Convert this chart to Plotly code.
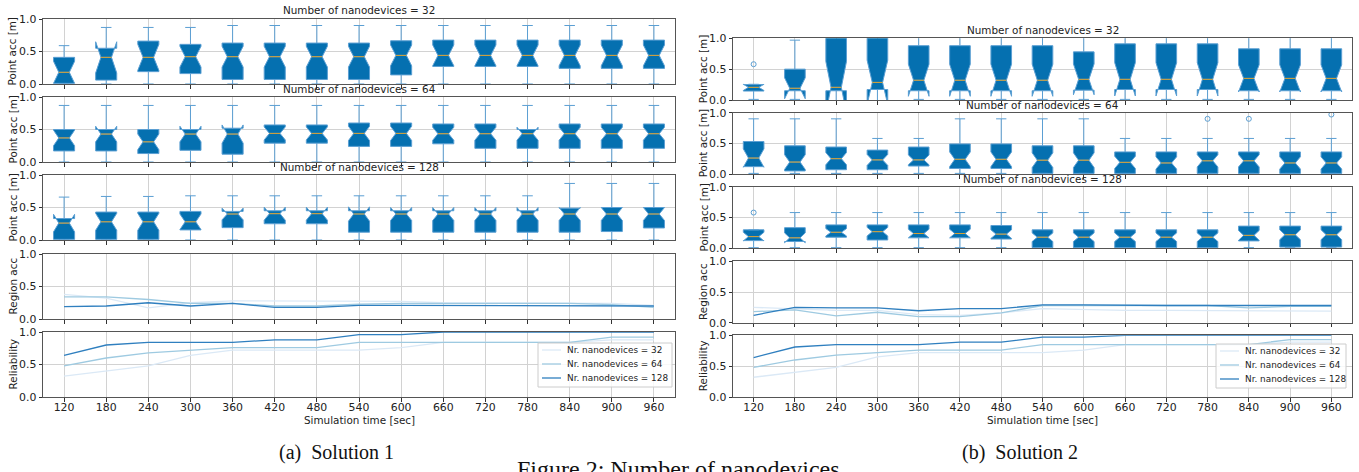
import plotly.graph_objects as go

W, H = 1359, 472

# ---------------- data ----------------
TIMES = [120, 180, 240, 300, 360, 420, 480, 540, 600, 660, 720, 780, 840, 900, 960]
TICK_LABELS = [str(t) for t in TIMES]
SERIES_NAMES = ["Nr. nanodevices = 32", "Nr. nanodevices = 64", "Nr. nanodevices = 128"]
BOX_TITLES = ["Number of nanodevices = 32", "Number of nanodevices = 64", "Number of nanodevices = 128"]

# Solution 1 - point accuracy box statistics
S1_N32_LF = [0.0] * 15
S1_N32_Q1 = [0.01, 0.06, 0.19, 0.16, 0.07, 0.07, 0.07, 0.07, 0.14, 0.27, 0.27, 0.27, 0.24, 0.24, 0.24]
S1_N32_MED = [0.18, 0.41, 0.41, 0.42, 0.42, 0.42, 0.42, 0.42, 0.44, 0.44, 0.44, 0.44, 0.44, 0.44, 0.44]
S1_N32_Q3 = [0.41, 0.55, 0.66, 0.61, 0.63, 0.63, 0.63, 0.63, 0.665, 0.675, 0.675, 0.675, 0.675, 0.675, 0.675]
S1_N32_UF = [0.59, 0.87, 0.87, 0.87, 0.90, 0.90, 0.90, 0.90, 0.90, 0.90, 0.90, 0.90, 0.90, 0.90, 0.90]
S1_N32_NOTCH = [0.17, 0.24, 0.20, 0.16, 0.16, 0.16, 0.16, 0.16, 0.16, 0.16, 0.16, 0.16, 0.16, 0.16, 0.16]

S1_N64_LF = [0.0] * 15
S1_N64_Q1 = [0.17, 0.17, 0.13, 0.18, 0.12, 0.29, 0.29, 0.24, 0.24, 0.28, 0.21, 0.21, 0.21, 0.21, 0.21]
S1_N64_MED = [0.37, 0.43, 0.31, 0.43, 0.43, 0.44, 0.44, 0.44, 0.44, 0.435, 0.435, 0.435, 0.435, 0.435, 0.435]
S1_N64_Q3 = [0.50, 0.50, 0.50, 0.50, 0.52, 0.57, 0.57, 0.60, 0.60, 0.585, 0.585, 0.50, 0.585, 0.585, 0.585]
S1_N64_UF = [0.87] * 15
S1_N64_NOTCH = [0.12, 0.12, 0.12, 0.12, 0.14, 0.10, 0.10, 0.11, 0.11, 0.10, 0.10, 0.10, 0.10, 0.10, 0.10]

S1_N128_LF = [0.0] * 15
S1_N128_Q1 = [0.01, 0.01, 0.01, 0.155, 0.19, 0.25, 0.25, 0.12, 0.12, 0.12, 0.12, 0.12, 0.12, 0.13, 0.185]
S1_N128_MED = [0.26, 0.28, 0.28, 0.28, 0.40, 0.405, 0.405, 0.40, 0.40, 0.40, 0.40, 0.40, 0.40, 0.40, 0.40]
S1_N128_Q3 = [0.33, 0.43, 0.43, 0.44, 0.44, 0.45, 0.45, 0.45, 0.45, 0.45, 0.45, 0.45, 0.49, 0.50, 0.50]
S1_N128_UF = [0.66, 0.67, 0.67, 0.68, 0.68, 0.68, 0.68, 0.68, 0.68, 0.68, 0.68, 0.68, 0.87, 0.87, 0.87]
S1_N128_NOTCH = [0.135, 0.13, 0.13, 0.12, 0.09, 0.10, 0.10, 0.11, 0.10, 0.10, 0.10, 0.10, 0.10, 0.10, 0.10]

# Solution 2 - point accuracy box statistics
S2_N32_LF = [0.01] * 15
S2_N32_Q1 = [0.145, 0.15, 0.15, 0.17, 0.15, 0.15, 0.15, 0.15, 0.16, 0.17, 0.17, 0.17, 0.15, 0.15, 0.15]
S2_N32_MED = [0.205, 0.19, 0.205, 0.285, 0.32, 0.32, 0.32, 0.32, 0.335, 0.335, 0.335, 0.335, 0.35, 0.35, 0.35]
S2_N32_Q3 = [0.25, 0.50, 1.10, 1.10, 0.88, 0.88, 0.88, 0.88, 0.78, 0.91, 0.91, 0.91, 0.83, 0.83, 0.83]
S2_N32_UF = [0.25, 0.97, 1.30, 1.30, 1.20, 1.20, 1.20, 1.20, 1.20, 1.20, 1.20, 1.20, 1.20, 1.20, 1.20]
S2_N32_NOTCH = [0.05, 0.17, 0.42, 0.36, 0.26, 0.26, 0.26, 0.26, 0.25, 0.27, 0.27, 0.27, 0.22, 0.22, 0.22]
S2_N32_OUT_X = [120]
S2_N32_OUT_Y = [0.58]

S2_N64_LF = [0.01] * 15
S2_N64_Q1 = [0.12, 0.05, 0.07, 0.07, 0.13, 0.09, 0.09, 0.01, 0.01, 0.01, 0.01, 0.01, 0.01, 0.01, 0.01]
S2_N64_MED = [0.26, 0.195, 0.25, 0.23, 0.23, 0.24, 0.24, 0.225, 0.225, 0.19, 0.18, 0.215, 0.215, 0.18, 0.18]
S2_N64_Q3 = [0.53, 0.46, 0.44, 0.39, 0.44, 0.49, 0.49, 0.46, 0.46, 0.36, 0.36, 0.36, 0.36, 0.36, 0.36]
S2_N64_UF = [0.90, 0.90, 0.90, 0.58, 0.58, 0.90, 0.90, 0.90, 0.90, 0.58, 0.58, 0.58, 0.58, 0.58, 0.58]
S2_N64_NOTCH = [0.15, 0.12, 0.10, 0.09, 0.08, 0.12, 0.12, 0.12, 0.12, 0.10, 0.10, 0.10, 0.10, 0.10, 0.10]
S2_N64_OUT_X = [780, 840, 960]
S2_N64_OUT_Y = [0.90, 0.90, 0.97]

S2_N128_LF = [0.01] * 15
S2_N128_Q1 = [0.125, 0.11, 0.18, 0.135, 0.17, 0.17, 0.15, 0.01, 0.01, 0.01, 0.01, 0.01, 0.12, 0.02, 0.02]
S2_N128_MED = [0.19, 0.17, 0.26, 0.27, 0.24, 0.24, 0.23, 0.18, 0.18, 0.18, 0.18, 0.18, 0.21, 0.22, 0.22]
S2_N128_Q3 = [0.30, 0.335, 0.38, 0.38, 0.38, 0.38, 0.37, 0.30, 0.30, 0.30, 0.30, 0.30, 0.36, 0.36, 0.36]
S2_N128_UF = [0.30, 0.58, 0.58, 0.58, 0.58, 0.58, 0.58, 0.58, 0.58, 0.58, 0.58, 0.58, 0.58, 0.58, 0.58]
S2_N128_NOTCH = [0.07, 0.08, 0.06, 0.07, 0.07, 0.07, 0.07, 0.07, 0.07, 0.07, 0.07, 0.07, 0.08, 0.08, 0.08]
S2_N128_OUT_X = [120]
S2_N128_OUT_Y = [0.58]

# Region accuracy
S1_REGION_32 = [0.38, 0.32, 0.17, 0.25, 0.28, 0.28, 0.28, 0.28, 0.27, 0.25, 0.25, 0.25, 0.25, 0.24, 0.21]
S1_REGION_64 = [0.34, 0.34, 0.30, 0.24, 0.24, 0.20, 0.20, 0.23, 0.24, 0.24, 0.24, 0.24, 0.24, 0.22, 0.18]
S1_REGION_128 = [0.19, 0.20, 0.25, 0.20, 0.24, 0.18, 0.18, 0.21, 0.21, 0.21, 0.21, 0.21, 0.21, 0.21, 0.20]
S2_REGION_32 = [0.25, 0.22, 0.20, 0.20, 0.13, 0.12, 0.16, 0.23, 0.21, 0.20, 0.20, 0.20, 0.20, 0.20, 0.19]
S2_REGION_64 = [0.18, 0.21, 0.11, 0.17, 0.10, 0.10, 0.16, 0.28, 0.28, 0.28, 0.28, 0.28, 0.24, 0.265, 0.265]
S2_REGION_128 = [0.12, 0.25, 0.24, 0.24, 0.195, 0.23, 0.23, 0.29, 0.29, 0.28, 0.28, 0.28, 0.28, 0.28, 0.28]

# Reliability
S1_REL_32 = [0.32, 0.40, 0.48, 0.64, 0.72, 0.72, 0.72, 0.72, 0.76, 0.84, 0.84, 0.84, 0.84, 0.88, 0.88]
S1_REL_64 = [0.48, 0.60, 0.68, 0.72, 0.76, 0.76, 0.76, 0.84, 0.84, 0.84, 0.84, 0.84, 0.84, 0.92, 0.92]
S1_REL_128 = [0.64, 0.80, 0.84, 0.84, 0.84, 0.88, 0.88, 0.96, 0.96, 1.0, 1.0, 1.0, 1.0, 1.0, 1.0]
S2_REL_32 = [0.32, 0.40, 0.48, 0.65, 0.72, 0.72, 0.72, 0.72, 0.76, 0.85, 0.85, 0.85, 0.85, 0.89, 0.89]
S2_REL_64 = [0.48, 0.60, 0.68, 0.72, 0.76, 0.76, 0.76, 0.85, 0.85, 0.85, 0.85, 0.85, 0.85, 0.93, 0.93]
S2_REL_128 = [0.64, 0.81, 0.85, 0.85, 0.85, 0.89, 0.89, 0.97, 0.97, 1.0, 1.0, 1.0, 1.0, 1.0, 1.0]

# ---------------- style ----------------
FONT = "DejaVu Sans"
SERIF = "Liberation Serif"
FS = 10.4
TICK_FS = 10.9
LEG_FS = 8.9
BOX_FILL = "#0570b0"
BOX_EDGE = "#5b9fd3"
MEDIAN_COLOR = "#d9a030"
LINE_COLORS = ["#dbe9f6", "#9ecae1", "#2f7fbf"]
GRID = "#d2d2d2"
SPINE = "#555555"
BOX_WIDTH = 30          # in seconds (half of tick spacing)
MED_HALF = BOX_WIDTH * 0.25

PANELS = [
    dict(x0=43, x1=675,
         rows=[(19, 84), (97, 162), (175, 240), (254, 319), (332, 397)],
         title_y=[10, 89, 167], ytitle_x=12, xtitle_y=420,
         caption="(a)\u00a0\u00a0Solution 1", caption_x=336,
         legend=dict(x0=538, x1=672, y0=343, y1=387, rows=[350, 364, 378])),
    dict(x0=733, x1=1352,
         rows=[(38.3, 100), (112.7, 174), (186.7, 248.3), (261.3, 322.7), (335.3, 397)],
         title_y=[30, 105, 179], ytitle_x=703, xtitle_y=420,
         caption="(b)\u00a0\u00a0Solution 2", caption_x=1020,
         legend=dict(x0=1216, x1=1346, y0=344, y1=388, rows=[351, 365, 379])),
]

BOXES = [
    [(S1_N32_LF, S1_N32_Q1, S1_N32_MED, S1_N32_Q3, S1_N32_UF, S1_N32_NOTCH, [], []),
     (S1_N64_LF, S1_N64_Q1, S1_N64_MED, S1_N64_Q3, S1_N64_UF, S1_N64_NOTCH, [], []),
     (S1_N128_LF, S1_N128_Q1, S1_N128_MED, S1_N128_Q3, S1_N128_UF, S1_N128_NOTCH, [], [])],
    [(S2_N32_LF, S2_N32_Q1, S2_N32_MED, S2_N32_Q3, S2_N32_UF, S2_N32_NOTCH, S2_N32_OUT_X, S2_N32_OUT_Y),
     (S2_N64_LF, S2_N64_Q1, S2_N64_MED, S2_N64_Q3, S2_N64_UF, S2_N64_NOTCH, S2_N64_OUT_X, S2_N64_OUT_Y),
     (S2_N128_LF, S2_N128_Q1, S2_N128_MED, S2_N128_Q3, S2_N128_UF, S2_N128_NOTCH, S2_N128_OUT_X, S2_N128_OUT_Y)],
]
REGION = [[S1_REGION_32, S1_REGION_64, S1_REGION_128], [S2_REGION_32, S2_REGION_64, S2_REGION_128]]
RELIAB = [[S1_REL_32, S1_REL_64, S1_REL_128], [S2_REL_32, S2_REL_64, S2_REL_128]]
Y_TITLES = ["Point acc [m]", "Point acc [m]", "Point acc [m]", "Region acc", "Reliability"]


def fx(px):
    return px / W


def fy(py):
    return 1 - py / H


fig = go.Figure()
layout = dict(
    width=W, height=H,
    margin=dict(l=0, r=0, t=0, b=0, autoexpand=False),
    paper_bgcolor="white", plot_bgcolor="white",
    font=dict(family=FONT, size=FS, color="#222222"),
    showlegend=False,
)
annotations = []
shapes = []

for p, panel in enumerate(PANELS):
    for r, (yt, yb) in enumerate(panel["rows"]):
        n = p * 5 + r + 1
        xa = "x" if n == 1 else f"x{n}"
        ya = "y" if n == 1 else f"y{n}"
        layout["xaxis" if n == 1 else f"xaxis{n}"] = dict(
            domain=[fx(panel["x0"]), fx(panel["x1"])], anchor=ya,
            range=[90, 990], tickvals=TIMES, ticktext=TICK_LABELS,
            showticklabels=(r == 4), ticks="outside", ticklen=3.5, tickwidth=1,
            tickcolor="#333333", showline=True, mirror=True, linecolor=SPINE,
            linewidth=1, showgrid=True, gridcolor=GRID, gridwidth=1, zeroline=False,
            tickfont=dict(size=TICK_FS, color="#222222"), ticklabelstandoff=-4,
        )
        layout["yaxis" if n == 1 else f"yaxis{n}"] = dict(
            domain=[fy(yb), fy(yt)], anchor=xa,
            range=[0, 1], tickvals=[0, 0.5, 1.0], tickformat=".1f",
            ticks="outside", ticklen=3.5, tickwidth=1, tickcolor="#333333",
            showline=True, mirror=True, linecolor=SPINE, linewidth=1,
            showgrid=True, gridcolor=GRID, gridwidth=1, zeroline=False,
            tickfont=dict(size=TICK_FS, color="#222222"),
        )
        # y axis title
        annotations.append(dict(
            text=Y_TITLES[r], xref="paper", yref="paper",
            x=fx(panel["ytitle_x"]), y=fy((yt + yb) / 2), textangle=-90,
            xanchor="center", yanchor="middle", showarrow=False,
            font=dict(size=FS, family=FONT, color="#222222")))

        if r < 3:
            lf, q1, med, q3, uf, notch, ox, oy = BOXES[p][r]
            fig.add_trace(go.Box(
                x=TIMES, lowerfence=lf, q1=q1, median=med, q3=q3, upperfence=uf,
                notchspan=notch, notched=True, notchwidth=0.25, whiskerwidth=0.5,
                width=BOX_WIDTH, boxpoints=False, orientation="v",
                fillcolor=BOX_FILL, line=dict(color=BOX_EDGE, width=1),
                xaxis=xa, yaxis=ya, showlegend=False, hoverinfo="skip"))
            mx, my = [], []
            for t, m in zip(TIMES, med):
                mx += [t - MED_HALF, t + MED_HALF, None]
                my += [m, m, None]
            fig.add_trace(go.Scatter(
                x=mx, y=my, mode="lines", line=dict(color=MEDIAN_COLOR, width=1),
                xaxis=xa, yaxis=ya, showlegend=False, hoverinfo="skip"))
            if ox:
                fig.add_trace(go.Scatter(
                    x=ox, y=oy, mode="markers",
                    marker=dict(symbol="circle-open", size=5, color=BOX_EDGE,
                                line=dict(width=1, color=BOX_EDGE)),
                    xaxis=xa, yaxis=ya, showlegend=False, hoverinfo="skip"))
            annotations.append(dict(
                text=BOX_TITLES[r], xref="paper", yref="paper",
                x=fx((panel["x0"] + panel["x1"]) / 2), y=fy(panel["title_y"][r]),
                xanchor="center", yanchor="middle", showarrow=False,
                font=dict(size=FS, family=FONT, color="#222222")))
        else:
            data = REGION[p] if r == 3 else RELIAB[p]
            for s in range(3):
                fig.add_trace(go.Scatter(
                    x=TIMES, y=data[s], mode="lines", name=SERIES_NAMES[s],
                    line=dict(color=LINE_COLORS[s], width=1.3),
                    xaxis=xa, yaxis=ya, showlegend=False, hoverinfo="skip"))

    # x axis title
    annotations.append(dict(
        text="Simulation time [sec]", xref="paper", yref="paper",
        x=fx((panel["x0"] + panel["x1"]) / 2), y=fy(panel["xtitle_y"]),
        xanchor="center", yanchor="middle", showarrow=False,
        font=dict(size=FS, family=FONT, color="#222222")))
    # sub caption
    annotations.append(dict(
        text=panel["caption"], xref="paper", yref="paper",
        x=fx(panel["caption_x"]), y=fy(452), xanchor="center", yanchor="middle",
        showarrow=False, font=dict(size=20, family=SERIF, color="#111111")))

    # legend (drawn inside the reliability subplot)
    lg = panel["legend"]
    shapes.append(dict(
        type="rect", xref="paper", yref="paper",
        x0=fx(lg["x0"]), x1=fx(lg["x1"]), y0=fy(lg["y1"]), y1=fy(lg["y0"]),
        fillcolor="rgba(255,255,255,0.85)", line=dict(color="#cccccc", width=1), layer="above"))
    for s in range(3):
        yy = fy(lg["rows"][s])
        shapes.append(dict(
            type="line", xref="paper", yref="paper",
            x0=fx(lg["x0"] + 4), x1=fx(lg["x0"] + 23), y0=yy, y1=yy,
            line=dict(color=LINE_COLORS[s], width=1.3), layer="above"))
        annotations.append(dict(
            text=SERIES_NAMES[s], xref="paper", yref="paper",
            x=fx(lg["x0"] + 27), y=yy, xanchor="left", yanchor="middle",
            showarrow=False, font=dict(size=LEG_FS, family=FONT, color="#222222")))

# figure caption (cut off at the bottom edge)
annotations.append(dict(
    text="Figure 2: Number of nanodevices", xref="paper", yref="paper",
    x=fx(515), y=fy(469), xanchor="left", yanchor="middle",
    showarrow=False, font=dict(size=24, family=SERIF, color="#111111")))

layout["annotations"] = annotations
layout["shapes"] = shapes
fig.update_layout(**layout)

fig.write_html("out.html", config={"displayModeBar": False},
               post_script="document.body.style.margin='0';document.body.style.overflow='hidden';")
